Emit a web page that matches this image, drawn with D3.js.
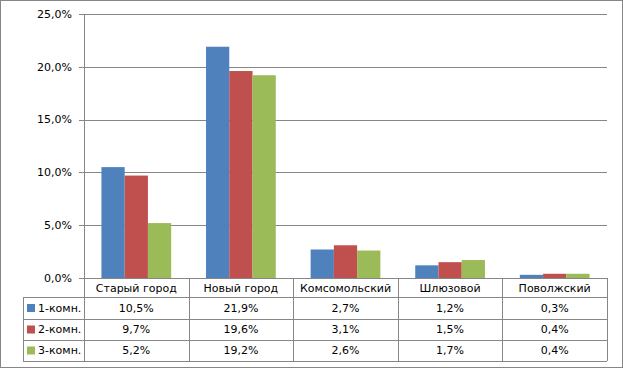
<!DOCTYPE html>
<html>
<head>
<meta charset="utf-8">
<script src="https://cdn.jsdelivr.net/npm/d3@7"></script>
<style>
  body { margin: 0; background: #fff; }
  text { font-family: "DejaVu Sans", sans-serif; fill: #000; }
</style>
</head>
<body>
<div id="chart"></div>
<script>
// Data
const categories = ['Старый город', 'Новый город', 'Комсомольский', 'Шлюзовой', 'Поволжский']
const seriesNames = ['1-комн.', '2-комн.', '3-комн.']
const oneRoom = [10.5, 21.9, 2.7, 1.2, 0.3]
const twoRoom = [9.7, 19.6, 3.1, 1.5, 0.4]
const threeRoom = [5.2, 19.2, 2.6, 1.7, 0.4]
const yTicks = [0, 5, 10, 15, 20, 25]
const colors = ['#4F81BD', '#C0504D', '#9BBB59']

const seriesValues = [oneRoom, twoRoom, threeRoom]

const size = { width: 623, height: 368 }
const plot = { left: 84, right: 607, top: 14, bottom: 278 }
const rowH = [19, 22, 21, 21]
const tableLeft = 23
const lineColor = '#868686'

const ru = d3.formatLocale({ decimal: ',', thousands: ' ', grouping: [3], currency: ['', ''] })
const fmt = v => ru.format('.1f')(v) + '%'

const svg = d3.select('#chart').append('svg')
  .attr('width', size.width)
  .attr('height', size.height)

// Chart border
svg.append('rect')
  .attr('x', 0.5).attr('y', 0.5)
  .attr('width', size.width - 1).attr('height', size.height - 1)
  .attr('fill', '#fff').attr('stroke', lineColor)

// Scales
let x0 = d3.scaleBand().domain(categories).range([plot.left, plot.right]).padding(0)
let x1 = d3.scaleBand().domain(seriesNames).range([0, x0.bandwidth()]).paddingInner(0).paddingOuter(0.75)
let y = d3.scaleLinear().domain([0, 25]).range([plot.bottom, plot.top])

// Gridlines + ticks
svg.append('g').selectAll('line')
  .data(yTicks)
  .enter().append('line')
  .attr('x1', plot.left - 5).attr('x2', plot.right)
  .attr('y1', d => Math.round(y(d)) + 0.5).attr('y2', d => Math.round(y(d)) + 0.5)
  .attr('stroke', lineColor)

svg.append('line')
  .attr('x1', plot.left + 0.5).attr('x2', plot.left + 0.5)
  .attr('y1', plot.top).attr('y2', plot.bottom)
  .attr('stroke', lineColor)

svg.append('g').selectAll('text')
  .data(yTicks)
  .enter().append('text')
  .attr('x', 72).attr('y', d => y(d))
  .attr('dy', '0.35em')
  .attr('text-anchor', 'end')
  .style('font-size', '11px')
  .text(fmt)

// Bars
seriesValues.forEach((vals, s) => {
  svg.append('g').selectAll('rect')
    .data(vals)
    .enter().append('rect')
    .attr('x', (d, i) => x0(categories[i]) + x1(seriesNames[s]))
    .attr('width', x1.bandwidth())
    .attr('y', d => y(d))
    .attr('height', d => y(0) - y(d))
    .attr('fill', colors[s])
})

// Data table
let rowY = [plot.bottom]
rowH.forEach(h => rowY.push(rowY[rowY.length - 1] + h))
let table = svg.append('g').attr('stroke', lineColor).attr('fill', 'none')

// horizontal lines
rowY.forEach((ry, i) => {
  table.append('line')
    .attr('x1', i === 0 ? plot.left : tableLeft).attr('x2', plot.right)
    .attr('y1', Math.round(ry) + 0.5).attr('y2', Math.round(ry) + 0.5)
})
// vertical lines
table.append('line')
  .attr('x1', tableLeft + 0.5).attr('x2', tableLeft + 0.5)
  .attr('y1', rowY[1]).attr('y2', rowY[4])
d3.range(categories.length + 1).forEach(i => {
  let vx = Math.round(plot.left + i * x0.step()) + 0.5
  table.append('line')
    .attr('x1', vx).attr('x2', vx)
    .attr('y1', rowY[0]).attr('y2', rowY[4])
})

// header labels
svg.append('g').selectAll('text')
  .data(categories)
  .enter().append('text')
  .attr('x', d => x0(d) + x0.bandwidth() / 2)
  .attr('y', (rowY[0] + rowY[1]) / 2 + 1)
  .attr('dy', '0.35em')
  .attr('text-anchor', 'middle')
  .style('font-size', '11px')
  .text(d => d)

// rows
seriesValues.forEach((vals, s) => {
  let cy = (rowY[s + 1] + rowY[s + 2]) / 2
  svg.append('rect')
    .attr('x', 27).attr('y', cy - 4)
    .attr('width', 8).attr('height', 8)
    .attr('fill', colors[s])
  svg.append('text')
    .attr('x', 38).attr('y', cy)
    .attr('dy', '0.35em')
    .style('font-size', '11px')
    .text(seriesNames[s])
  svg.append('g').selectAll('text')
    .data(vals)
    .enter().append('text')
    .attr('x', (d, i) => x0(categories[i]) + x0.bandwidth() / 2)
    .attr('y', cy)
    .attr('dy', '0.35em')
    .attr('text-anchor', 'middle')
    .style('font-size', '11px')
    .text(fmt)
})
</script>
</body>
</html>
